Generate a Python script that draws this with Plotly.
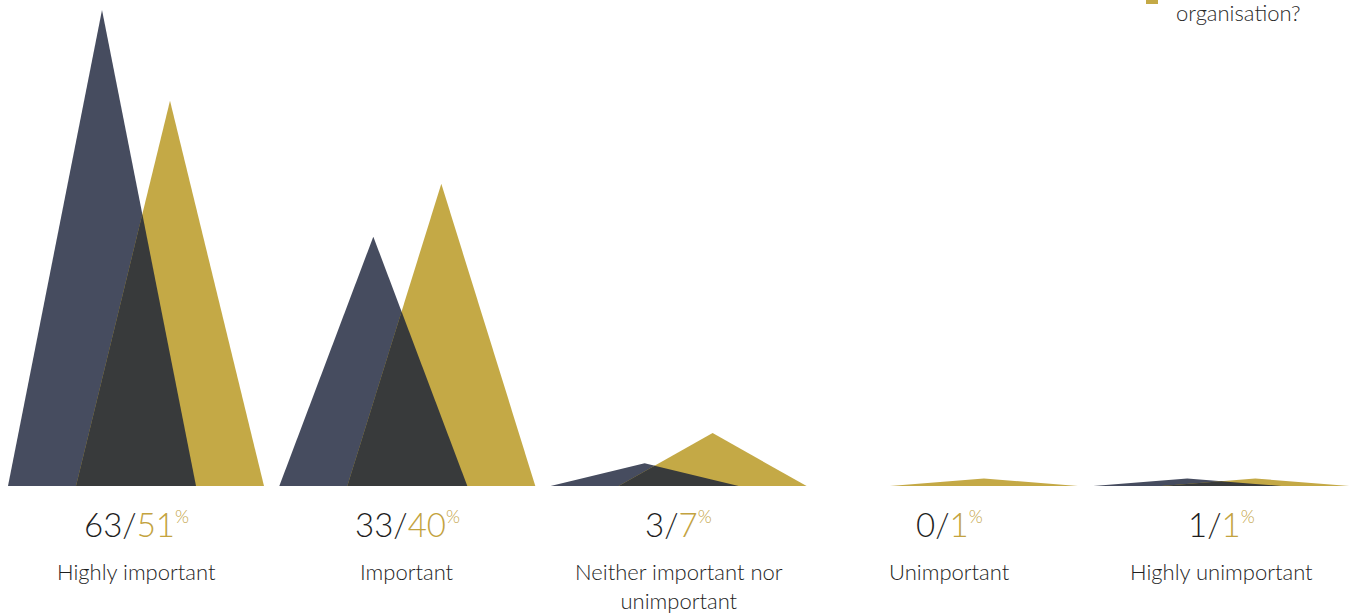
import numpy as np
import plotly.graph_objects as go

# Survey response shares (%) for two groups, per answer category
categories = ["Highly important", "Important", "Neither important nor<br>unimportant",
              "Unimportant", "Highly unimportant"]
series_a = [63, 33, 3, 0, 1]   # navy
series_b = [51, 40, 7, 1, 1]   # gold
legend_text = "organisation?"

NAVY = "#464c5f"
GOLD = "#c4a946"
OVERLAP = "#383a3b"
GOLD_TEXT = "#c3a33f"
DARK_TEXT = "#1e1e1e"

OFFSET = 0.1253   # horizontal shift of each triangle from the category centre
HALF = 0.3465     # half of the triangle base width


def tent(apex_x, height):
    """Outline of a triangle standing on the baseline."""
    return [apex_x - HALF, apex_x, apex_x + HALF], [0, height, 0]


def tent_value(x, apex_x, height):
    return np.maximum(0.0, height * (1 - np.abs(x - apex_x) / HALF))


def overlap_outline(ax, ha, bx, hb):
    """Region lying under both triangles (min of the two tent profiles)."""
    lo, hi = bx - HALF, ax + HALF
    pts = sorted(v for v in {lo, hi, ax, bx} if lo <= v <= hi)
    xs = [pts[0]]
    for x0, x1 in zip(pts[:-1], pts[1:]):
        d0 = tent_value(x0, ax, ha) - tent_value(x0, bx, hb)
        d1 = tent_value(x1, ax, ha) - tent_value(x1, bx, hb)
        if d0 * d1 < 0:
            xs.append(x0 + (x1 - x0) * d0 / (d0 - d1))
        xs.append(x1)
    xs = np.array(xs)
    ys = np.minimum(tent_value(xs, ax, ha), tent_value(xs, bx, hb))
    return list(xs), list(ys)


fig = go.Figure()
for i, (a, b) in enumerate(zip(series_a, series_b)):
    ax, bx = i - OFFSET, i + OFFSET
    x, y = tent(ax, a)
    fig.add_trace(go.Scatter(x=x, y=y, fill="toself", fillcolor=NAVY, mode="lines",
                             line=dict(width=0), hoverinfo="skip", showlegend=False))
    x, y = tent(bx, b)
    fig.add_trace(go.Scatter(x=x, y=y, fill="toself", fillcolor=GOLD, mode="lines",
                             line=dict(width=0), hoverinfo="skip", showlegend=False))
    if a > 0 and b > 0:
        x, y = overlap_outline(ax, a, bx, b)
        fig.add_trace(go.Scatter(x=x, y=y, fill="toself", fillcolor=OVERLAP, mode="lines",
                                 line=dict(width=0), hoverinfo="skip", showlegend=False))

    # value pair under each category
    fig.add_annotation(
        x=i, xref="x", y=0, yref="paper", yanchor="middle", yshift=-38,
        text=(f"<span style='color:{DARK_TEXT}'>{a}/</span>"
              f"<span style='color:{GOLD_TEXT}'>{b}<sup><span style='font-size:18px'>%</span></sup></span>"),
        showarrow=False, font=dict(family="Lato", size=33, weight=300, color=DARK_TEXT))
    # category label
    fig.add_annotation(
        x=i, xref="x", y=0, yref="paper", yanchor="top", yshift=-70,
        text=categories[i], showarrow=False,
        font=dict(family="Lato", size=22, weight=300, color=DARK_TEXT))

# legend key (top right, partly outside the view)
fig.add_shape(type="rect", xref="paper", yref="paper", x0=1146 / 1352, x1=1158 / 1352,
              y0=1.0 - 4 / 486, y1=1.02, fillcolor=GOLD, line=dict(width=0))
fig.add_annotation(x=1174 / 1352, xref="paper", xanchor="left", y=1.0, yref="paper",
                   yanchor="middle", yshift=-12, text=legend_text, showarrow=False,
                   font=dict(family="Lato", size=22, weight=300, color="#2a2a2a"))

fig.update_layout(
    width=1352, height=613,
    margin=dict(l=0, r=0, t=0, b=127),
    paper_bgcolor="white", plot_bgcolor="white",
    xaxis=dict(range=[-0.5013, 4.482], visible=False, fixedrange=True),
    yaxis=dict(range=[0, 64.32], visible=False, fixedrange=True),
    showlegend=False,
)

fig.write_html("out.html")
